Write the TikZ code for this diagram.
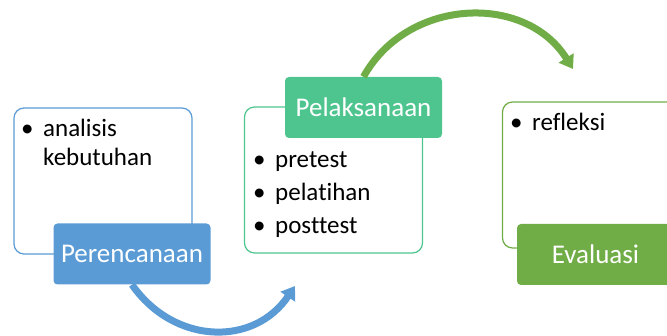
\documentclass[tikz,border=0pt]{standalone}
\usepackage{fontspec}
\setmainfont{Carlito}[Ligatures={NoCommon}]
\usetikzlibrary{arrows.meta}
\definecolor{planblue}{RGB}{91,155,213}
\definecolor{dogreen}{RGB}{78,197,143}
\definecolor{evalgreen}{RGB}{112,173,71}
\tikzset{
  stagebox/.style={draw=#1, line width=1.2pt, fill=white, rounded corners=10pt,
    minimum width=178pt, minimum height=146pt},
  stagelabel/.style={fill=#1, text=white, rounded corners=4pt,
    minimum width=157pt, minimum height=61pt, font=\fontsize{27}{32}\selectfont},
  itemtext/.style={anchor=base west, inner sep=0pt, font=\fontsize{25}{30}\selectfont},
  cyclearrow/.style={draw=#1, line width=7pt, -{Triangle[width=17pt,length=13pt]}}
}
\begin{document}
\begin{tikzpicture}[x=1pt,y=1pt]
        \useasboundingbox (0,0) rectangle (667,336);
        \clip (0,0) rectangle (667,336);
        %Perencanaan
        \node [stagebox=planblue] (box1)at(103,155){};
        \node [itemtext] (a1)at(21,199.5){\makebox[22pt][l]{\textbullet}analisis};
        \node [itemtext] (a2)at(43,170.5){kebutuhan};
        \node [stagelabel=planblue] (plan)at(132,82){Perencanaan};
        %Pelaksanaan
        \node [stagebox=dogreen] (box2)at(333.5,156){};
        \node [itemtext] (b1)at(253,168){\makebox[22pt][l]{\textbullet}pretest};
        \node [itemtext] (b2)at(253,135){\makebox[22pt][l]{\textbullet}pelatihan};
        \node [itemtext] (b3)at(253,102){\makebox[22pt][l]{\textbullet}posttest};
        \node [stagelabel=dogreen] (pelak)at(363.5,228.5){Pelaksanaan};
        %Evaluasi
        \node [stagebox=evalgreen] (box3)at(591.5,161){};
        \node [itemtext] (c1)at(510,205.5){\makebox[22pt][l]{\textbullet}refleksi};
        \node [stagelabel=evalgreen] (eval)at(595.5,81.5){Evaluasi};

        \coordinate (tipA) at (295,50);
        \coordinate (tipB) at (573,267);
        \draw [cyclearrow=planblue] (plan.south) to[out=-55,in=-124,looseness=1.15] (tipA);
        \draw [cyclearrow=evalgreen] (pelak.north) to[out=61,in=122,looseness=1.1] (tipB);

    \end{tikzpicture}
\end{document}
